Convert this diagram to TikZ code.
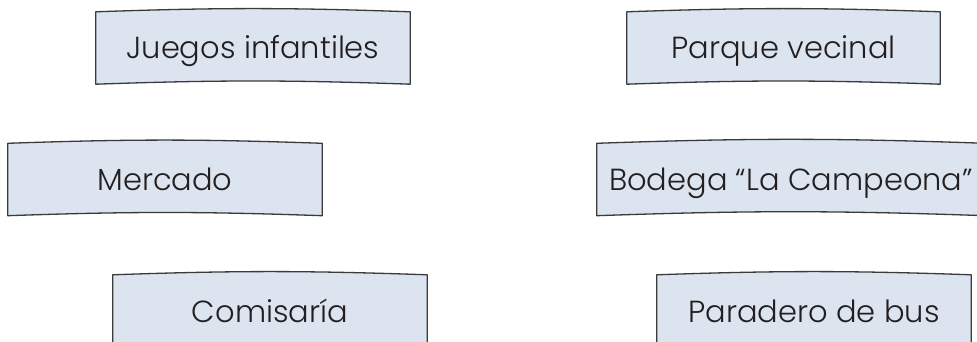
\documentclass[tikz,border=0pt]{standalone}
\usepackage{fontspec}
\setmainfont{Poppins Light}
\usetikzlibrary{backgrounds}
\definecolor{boxfill}{HTML}{DCE4EF}
\definecolor{boxedge}{HTML}{3A3A3A}
\definecolor{txt}{HTML}{231F20}
\tikzset{
  lbl/.style={inner sep=0pt, minimum height=72pt, text=txt,
    font=\fontsize{30.5}{36}\selectfont, text height=22pt, text depth=0pt},
  boxline/.style={fill=boxfill, draw=boxedge, line width=1.3pt, line join=round}
}
\begin{document}
\begin{tikzpicture}[x=1pt,y=-1pt]
\useasboundingbox (0,0) rectangle (977,342);
\clip (0,0) rectangle (977,342);
\node[lbl, minimum width=314pt] (juegos) at (253,48) {Juegos infantiles};
\node[lbl, minimum width=313pt] (parque) at (783.5,48) {Parque vecinal};
\node[lbl, minimum width=314pt] (mercado) at (165,179.5) {Mercado};
\node[lbl, minimum width=388pt] (bodega) at (791,179.5) {Bodega “La Campeona”};
\node[lbl, minimum width=314pt] (comisaria) at (270,311) {Comisaría};
\node[lbl, minimum width=314pt] (paradero) at (814,311) {Paradero de bus};
\begin{scope}[on background layer]
\foreach \n in {juegos,parque,mercado,bodega,comisaria,paradero}{
  \path[boxline] (\n.north west) to[bend left=2] (\n.north east)
    -- (\n.south east) to[bend right=2] (\n.south west) -- cycle;
}
\end{scope}
\end{tikzpicture}
\end{document}
